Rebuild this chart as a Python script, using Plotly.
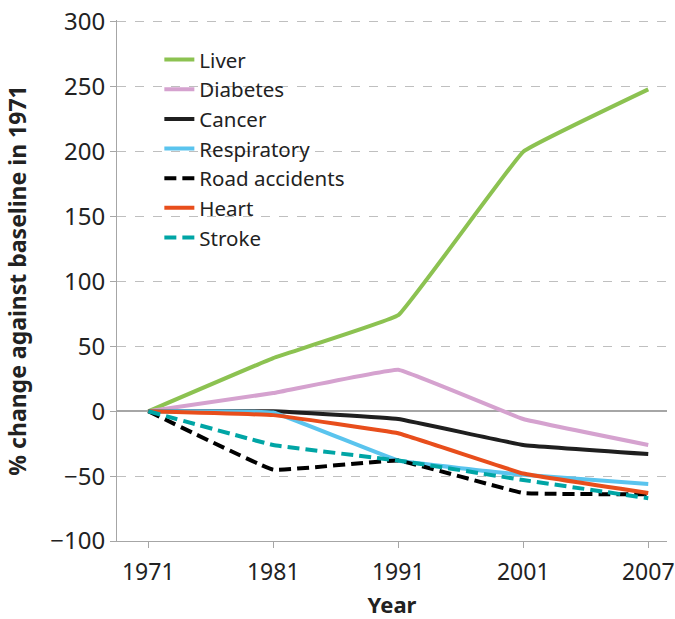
import plotly.graph_objects as go

years = ["1971", "1981", "1991", "2001", "2007"]

liver = [0, 41, 74, 200, 248]
diabetes = [0, 14, 32, -6, -26]
cancer = [0, 0, -6, -26, -33]
respiratory = [0, -1, -38, -49, -56]
road_accidents = [0, -45, -38, -63, -64]
heart = [0, -3, -17, -48, -63]
stroke = [0, -26, -38, -53, -67]

series = [
    ("Liver", liver, "#8cc251", "solid"),
    ("Diabetes", diabetes, "#d5a2cf", "solid"),
    ("Cancer", cancer, "#1f1f1f", "solid"),
    ("Respiratory", respiratory, "#5ac4ee", "solid"),
    ("Road accidents", road_accidents, "#000000", "12px,6px"),
    ("Heart", heart, "#e84e1c", "solid"),
    ("Stroke", stroke, "#00a5a5", "12px,6px"),
]

fig = go.Figure()
for name, vals, color, dash in series:
    fig.add_trace(go.Scatter(
        x=years, y=vals, name=name, mode="lines",
        line=dict(color=color, width=4, dash=dash, shape="spline", smoothing=0.2),
    ))

font = "Noto Sans, Open Sans, sans-serif"
fig.update_layout(
    width=675, height=619,
    margin=dict(l=117, r=8, t=20, b=78),
    plot_bgcolor="white", paper_bgcolor="white",
    font=dict(family=font, size=24, color="#222222"),
    legend=dict(x=0.077, y=0.962, xanchor="left", yanchor="top",
                font=dict(size=20.5, color="#222222"), bgcolor="rgba(0,0,0,0)",
                tracegroupgap=0),
    xaxis=dict(
        type="category", range=[-0.25, 4.15],
        showgrid=False, showline=True, linecolor="#a6a6a6", linewidth=1,
        ticks="outside", ticklen=6, tickcolor="#a6a6a6", ticklabelstandoff=4,
        tickfont=dict(size=23), ticklabeloverflow="allow",
        title=dict(text="<b>Year</b>", font=dict(size=22), standoff=14),
        zeroline=False, automargin=False,
    ),
    yaxis=dict(
        range=[-100, 301.5], dtick=50,
        showgrid=True, gridcolor="#bfbfbf", griddash="dash", gridwidth=1,
        zeroline=True, zerolinecolor="#a6a6a6", zerolinewidth=1.5,
        showline=True, linecolor="#a6a6a6", linewidth=1,
        ticks="outside", ticklen=6, tickcolor="#a6a6a6", ticklabeloverflow="allow",
        title=dict(text="<b>% change against baseline in 1971</b>", font=dict(size=23), standoff=17),
        automargin=False,
    ),
)
fig.update_yaxes(tickvals=[-100, -50, 0, 50, 100, 150, 200, 250, 300],
                 ticktext=["\u2212100", "\u221250", "0", "50", "100", "150", "200", "250", "300"])

# drop the default 8px page margin so the figure fills the window
fig.write_html("out.html", config={"displayModeBar": False},
               post_script="document.body.style.margin='0';")
